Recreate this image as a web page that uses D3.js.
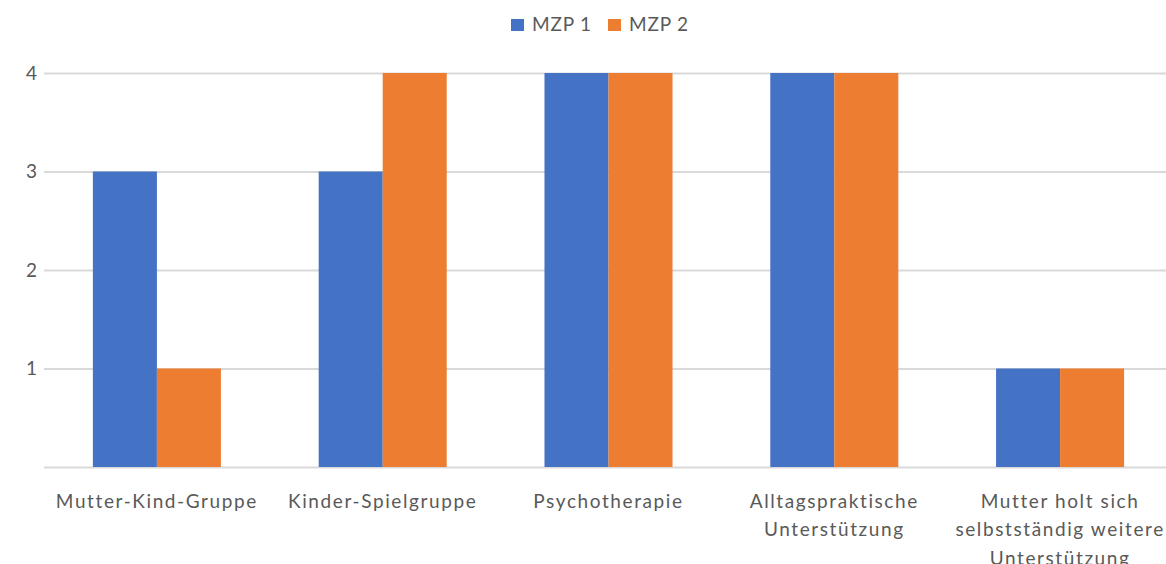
<!DOCTYPE html>
<html>
<head>
<meta charset="utf-8">
<script src="https://cdn.jsdelivr.net/npm/d3@7"></script>
<style>
  html, body { margin: 0; padding: 0; background: #fff; }
  svg text { font-family: Lato, "Open Sans", sans-serif; fill: #595959; }
</style>
</head>
<body>
<svg id="chart" width="1166" height="564"></svg>
<script>
const categories = [
  ["Mutter-Kind-Gruppe"],
  ["Kinder-Spielgruppe"],
  ["Psychotherapie"],
  ["Alltagspraktische", "Unterstützung"],
  ["Mutter holt sich", "selbstständig weitere", "Unterstützung"]
];
const seriesNames = ["MZP 1", "MZP 2"];
const mzp1 = [3, 3, 4, 4, 1];
const mzp2 = [1, 4, 4, 4, 1];
const yTicks = [1, 2, 3, 4];
const colors = ["#4472C4", "#ED7D31"];

const svg = d3.select("#chart");
const margin = { left: 44, right: -7, top: 73, bottom: 97 };
const W = 1166, H = 564;

const catKeys = categories.map(d => d.join(" "));
const x = d3.scaleBand().domain(catKeys).range([margin.left, W - margin.right]).paddingInner(0.433).paddingOuter(0.2165);
const x1 = d3.scaleBand().domain(seriesNames).range([0, x.bandwidth()]);
const y = d3.scaleLinear().domain([0, 4]).range([H - margin.bottom, margin.top]);

// gridlines
const grid = svg.append("g")
  .attr("transform", `translate(${margin.left},0)`)
  .call(d3.axisLeft(y).tickValues([0, ...yTicks]).tickSize(-(W - margin.right - margin.left)).tickFormat(""));
grid.select(".domain").remove();
grid.selectAll("line").attr("stroke", "#d9d9d9").attr("stroke-width", 2);

// y labels
const yAxis = svg.append("g")
  .attr("transform", `translate(${margin.left},0)`)
  .call(d3.axisLeft(y).tickValues(yTicks).tickSize(0).tickPadding(6).tickFormat(d3.format("d")));
yAxis.select(".domain").remove();
yAxis.selectAll("text").style("font-size", "19px").attr("fill", "#595959").attr("dx", "-1");

// bars
const data = catKeys.map((k, i) => ({ key: k, vals: [mzp1[i], mzp2[i]] }));
const groups = svg.append("g").selectAll("g").data(data).join("g")
  .attr("transform", d => `translate(${x(d.key)},0)`);
groups.selectAll("rect").data(d => d.vals.map((v, j) => ({ s: seriesNames[j], v, j })))
  .join("rect")
  .attr("x", d => x1(d.s))
  .attr("width", x1.bandwidth())
  .attr("y", d => y(d.v))
  .attr("height", d => y(0) - y(d.v))
  .attr("fill", d => colors[d.j]);

// x labels
const xl = svg.append("g");
categories.forEach((lines, i) => {
  const cx = x(catKeys[i]) + x.bandwidth() / 2;
  const t = xl.append("text").attr("text-anchor", "middle")
    .style("font-size", "19px").style("letter-spacing", "1.6px");
  lines.forEach((ln, j) => {
    t.append("tspan").attr("x", cx).attr("y", 508 + j * 28.4).text(ln);
  });
});

// legend
const leg = svg.append("g");
const legX = [511, 608];
seriesNames.forEach((s, i) => {
  leg.append("rect").attr("x", legX[i]).attr("y", 19).attr("width", 13).attr("height", 12).attr("fill", colors[i]);
  leg.append("text").attr("x", legX[i] + 21).attr("y", 31).style("font-size", "19px").style("letter-spacing", "0.8px").text(s);
});
</script>
</body>
</html>
